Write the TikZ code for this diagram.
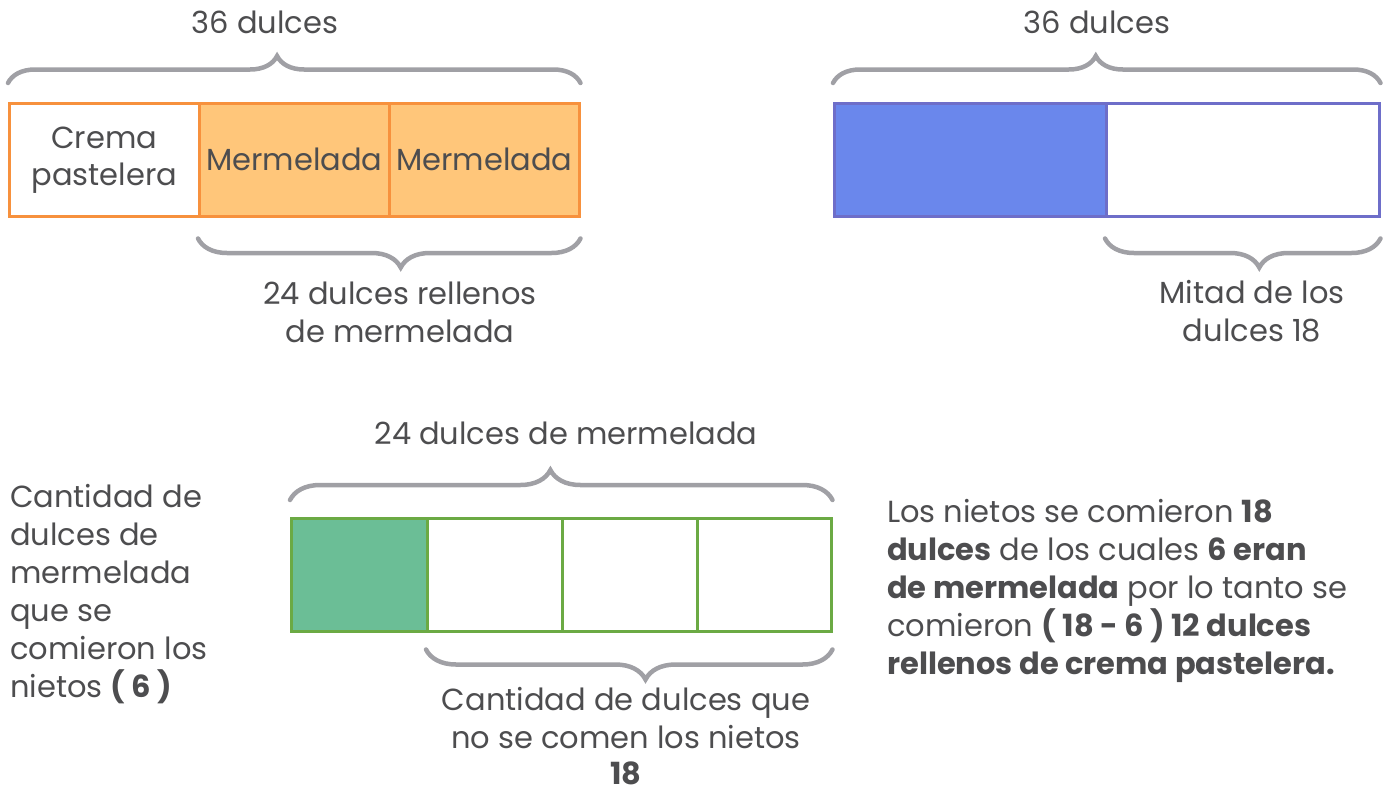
\documentclass[tikz,border=0pt]{standalone}
\usepackage{fontspec}
\setmainfont{Poppins}
\usetikzlibrary{decorations.pathreplacing}
\definecolor{txt}{HTML}{4D4D4F}
\definecolor{bracegray}{HTML}{A0A0A5}
\definecolor{orline}{HTML}{F7913D}
\definecolor{orfill}{HTML}{FFC67A}
\definecolor{blline}{HTML}{6E6EC9}
\definecolor{blfill}{HTML}{6A87EC}
\definecolor{grline}{HTML}{6BAA44}
\definecolor{grfill}{HTML}{6BBE96}
\tikzset{
  cell/.style={draw, line width=2.5pt, minimum height=113pt, anchor=north west,
    inner sep=0pt, text=txt, align=center, font=\fontsize{30.5}{37}\selectfont},
  brc/.style={decorate, decoration={brace, amplitude=#1}, draw=bracegray,
    line width=4.5pt, line cap=round},
  lbl/.style={text=txt, align=center, inner sep=0pt, font=\fontsize{30.5}{38}\selectfont},
}
\begin{document}
\begin{tikzpicture}[x=1pt,y=-1pt]
  \useasboundingbox (0,0) rectangle (1388,793);
  % top left bar
  \node[cell, draw=orline, minimum width=190pt] (crema) at (8,102) {Crema\\pastelera};
  \node[cell, draw=orline, fill=orfill, minimum width=190pt] (merA) at (198,102) {Mermelada};
  \node[cell, draw=orline, fill=orfill, minimum width=190pt] (merB) at (388,102) {Mermelada};
  \draw[brc=27pt, decoration={aspect=0.47}] ([yshift=19pt]crema.north west) -- ([yshift=19pt]merB.north east);
  \draw[brc=29pt, decoration={aspect=0.47}] ([yshift=-21pt]merB.south east) -- ([yshift=-21pt]merA.south west);
  \node[lbl] (totA) at (265,22) {36 dulces};
  \node[lbl] (relleno) at (400,312) {24 dulces rellenos\\de mermelada};
  % top right bar
  \node[cell, draw=blline, fill=blfill, minimum width=272pt] (mitA) at (833,102) {};
  \node[cell, draw=blline, minimum width=273pt] (mitB) at (1105,102) {};
  \draw[brc=27pt, decoration={aspect=0.48}] ([yshift=19pt]mitA.north west) -- ([yshift=19pt]mitB.north east);
  \draw[brc=29pt, decoration={aspect=0.44}] ([yshift=-21pt]mitB.south east) -- ([yshift=-21pt]mitB.south west);
  \node[lbl] (totB) at (1097,22) {36 dulces};
  \node[lbl] (mitad) at (1252,311) {Mitad de los\\dulces 18};
  % bottom bar
  \node[cell, draw=grline, fill=grfill, minimum width=136pt] (parA) at (290,517) {};
  \node[cell, draw=grline, minimum width=135pt] (parB) at (426,517) {};
  \node[cell, draw=grline, minimum width=135pt] (parC) at (561,517) {};
  \node[cell, draw=grline, minimum width=134pt] (parD) at (696,517) {};
  \draw[brc=30pt, decoration={aspect=0.48}] ([yshift=17pt]parA.north west) -- ([yshift=17pt]parD.north east);
  \draw[brc=30pt, decoration={aspect=0.46}] ([yshift=-17pt]parD.south east) -- ([yshift=-17pt]parB.south west);
  \node[lbl] (totC) at (566,433) {24 dulces de mermelada};
  \node[lbl] (resto) at (626,736) {Cantidad de dulces que\\no se comen los nietos\\[-1.5pt]\textbf{18}};
  \node[lbl, align=left, anchor=west] (comidos) at (10,594)
    {Cantidad de\\dulces de\\mermelada\\que se\\comieron los\\nietos \textbf{( 6 )}};
  \node[lbl, align=left, anchor=west] (nota) at (887,591)
    {Los nietos se comieron \textbf{18}\\\textbf{dulces} de los cuales \textbf{6 eran}\\\textbf{de mermelada} por lo tanto se\\comieron \textbf{( 18 - 6 ) 12 dulces}\\\textbf{rellenos de crema pastelera.}};
\end{tikzpicture}
\end{document}
